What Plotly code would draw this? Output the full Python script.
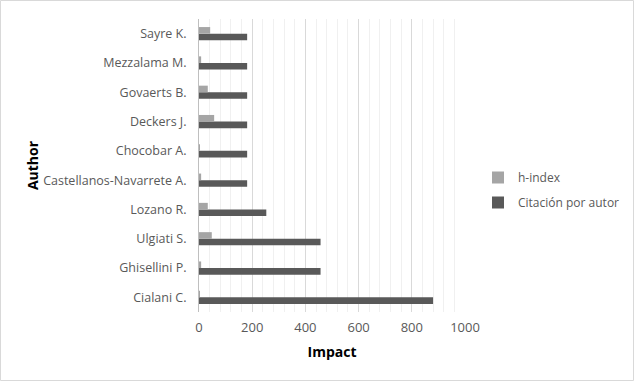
import plotly.graph_objects as go

authors = ["Cialani C.", "Ghisellini P.", "Ulgiati S.", "Lozano R.",
           "Castellanos-Navarrete A.", "Chocobar A.", "Deckers J.",
           "Govaerts B.", "Mezzalama M.", "Sayre K."]
h_index = [3, 8, 48, 33, 8, 2, 57, 33, 8, 42]
citations = [880, 457, 457, 253, 181, 181, 181, 181, 181, 181]

W, H = 635, 382
ml, mr, mt, mb = 199, 170, 19, 70

fig = go.Figure()
fig.add_trace(go.Bar(y=authors, x=citations, orientation="h",
                     name="Citación por autor", marker_color="#595959",
                     marker_line_width=0, legendgroup="c", legendrank=2))
fig.add_trace(go.Bar(y=authors, x=h_index, orientation="h",
                     name="h-index", marker_color="#A5A5A5",
                     marker_line_width=0, legendgroup="h", legendrank=1))

pw = W - ml - mr
ph = H - mt - mb
fig.update_layout(
    width=W, height=H,
    margin=dict(l=ml, r=mr, t=mt, b=mb, autoexpand=False),
    paper_bgcolor="white", plot_bgcolor="white",
    barmode="group", bargap=0.55, bargroupgap=0,
    font=dict(family="Open Sans", size=12, color="#595959"),
    legend=dict(x=(478 - ml) / pw, y=(H - mb - 190) / ph,
                xanchor="left", yanchor="middle", traceorder="grouped",
                font=dict(size=12, color="#595959"), itemwidth=30,
                tracegroupgap=6),
    xaxis=dict(range=[0, 1000], tickvals=[0, 200, 400, 600, 800, 1000],
               showgrid=True, gridcolor="#D9D9D9", gridwidth=1,
               minor=dict(dtick=40, showgrid=True, gridcolor="#F0F0F0", gridwidth=1),
               zeroline=False, showline=False, ticks="", automargin=False,
               ticklabelstandoff=6,
               tickfont=dict(size=13, color="#595959"),
               title=dict(text="<b>Impact</b>", font=dict(size=14, color="black"), standoff=12)),
    yaxis=dict(showgrid=False, showline=True, linecolor="#BFBFBF", linewidth=1,
               ticks="", ticklabelstandoff=9, automargin=False,
               tickfont=dict(size=12.5, color="#595959"),
               title=dict(text="<b>Author</b>", font=dict(size=14, color="black"), standoff=1)),
    shapes=[dict(type="rect", xref="paper", yref="paper",
                 x0=-ml / pw + 0.5 / pw, x1=1 + (mr - 1.5) / pw,
                 y0=-mb / ph + 1.5 / ph, y1=1 + (mt - 0.5) / ph,
                 line=dict(color="#D9D9D9", width=1))],
)
fig.write_html("out.html", config={"displayModeBar": False},
               post_script="document.body.style.margin='0';")
